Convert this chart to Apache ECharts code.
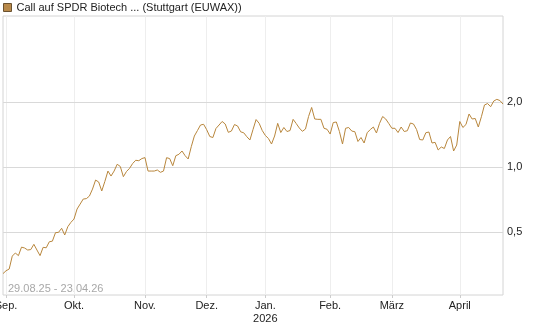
<!DOCTYPE html>
<html>
<head>
<meta charset="utf-8">
<script src="https://cdn.jsdelivr.net/npm/echarts@6/dist/echarts.min.js"></script>
<style>
  html, body { margin: 0; padding: 0; background: #fff; }
  #chart { width: 545px; height: 327px; }
</style>
</head>
<body>
<div id="chart"></div>
<script>
// Handelstage 29.08.25 - 23.04.26 (Börsenfeiertage ausgenommen)
var startDay = '2025-08-29'
var endDay = '2026-04-23'
var holidays = ['2025-12-24', '2025-12-25', '2025-12-26', '2025-12-31', '2026-01-01', '2026-04-03', '2026-04-06']
var monthNames = ['Jan.\n2026', 'Feb.', 'März', 'April', 'Mai', 'Juni', 'Juli', 'Aug.', 'Sep.', 'Okt.', 'Nov.', 'Dez.']
var yLabels = [0.5, 1, 2]

// Kurs je Handelstag
var prices = [
  0.322, 0.332, 0.338, 0.388, 0.401, 0.390, 0.427, 0.423, 0.414, 0.416,
  0.440, 0.414, 0.390, 0.426, 0.424, 0.452, 0.455, 0.498, 0.500, 0.522,
  0.486, 0.531, 0.556, 0.576, 0.641, 0.676, 0.713, 0.716, 0.736, 0.793,
  0.873, 0.855, 0.777, 0.860, 0.961, 0.911, 0.961, 1.033, 1.009, 0.905,
  0.956, 0.989, 1.041, 1.078, 1.073, 1.098, 1.109, 0.961, 0.961, 0.961,
  0.972, 0.948, 0.961, 1.108, 1.098, 1.017, 1.132, 1.149, 1.190, 1.132,
  1.093, 1.246, 1.396, 1.480, 1.570, 1.582, 1.493, 1.389, 1.374, 1.513,
  1.570, 1.630, 1.587, 1.452, 1.472, 1.578, 1.554, 1.460, 1.445, 1.386,
  1.338, 1.496, 1.664, 1.598, 1.480, 1.404, 1.360, 1.282, 1.396, 1.598,
  1.449, 1.529, 1.465, 1.480, 1.668, 1.595, 1.521, 1.468, 1.504, 1.719,
  1.893, 1.674, 1.668, 1.668, 1.516, 1.500, 1.426, 1.612, 1.621, 1.465,
  1.282, 1.516, 1.529, 1.472, 1.462, 1.317, 1.374, 1.296, 1.446, 1.496,
  1.537, 1.442, 1.598, 1.719, 1.674, 1.595, 1.516, 1.516, 1.449, 1.537,
  1.465, 1.477, 1.604, 1.587, 1.496, 1.345, 1.338, 1.446, 1.457, 1.296,
  1.305, 1.203, 1.242, 1.222, 1.338, 1.389, 1.190, 1.268, 1.630, 1.529,
  1.578, 1.766, 1.674, 1.683, 1.537, 1.715, 1.944, 1.974, 1.908, 2.027,
  2.064, 2.038, 1.963
]

var days = []
var t = Date.parse(startDay + 'T00:00:00Z')
var tEnd = Date.parse(endDay + 'T00:00:00Z')
while (t <= tEnd) {
  var d = new Date(t)
  var s = d.toISOString().slice(0, 10)
  var wd = d.getUTCDay()
  if (wd !== 0 && wd !== 6 && holidays.indexOf(s) < 0) days.push(s)
  t += 86400000
}

// erster Handelstag jedes Monats
var monthStart = {}
for (var i = 1; i < days.length; i++) {
  if (days[i].slice(5, 7) !== days[i - 1].slice(5, 7)) monthStart[i] = true
}
function isMonthStart(index) {
  return !!monthStart[index]
}

var chart = echarts.init(document.getElementById('chart'))
chart.setOption({
  animation: false,
  textStyle: { fontFamily: 'Liberation Sans, Arial, sans-serif' },
  legend: {
    left: 3,
    top: 2,
    padding: 0,
    icon: 'rect',
    itemWidth: 8,
    itemHeight: 8,
    selectedMode: false,
    textStyle: { fontSize: 11, color: '#222' },
    data: [{
      name: 'Call auf SPDR Biotech ... (Stuttgart (EUWAX))',
      itemStyle: { color: '#b8894a', borderColor: '#6b5230', borderWidth: 1 }
    }]
  },
  grid: {
    left: 3,
    right: 42,
    top: 16,
    bottom: 32,
    containLabel: false,
    outerBoundsMode: 'none',
    show: true,
    borderColor: '#d4d4d4',
    borderWidth: 1
  },
  graphic: [{
    type: 'text',
    left: 8,
    top: 283,
    style: { text: '29.08.25 - 23.04.26', fill: '#a8a8a8', font: '11px Liberation Sans, Arial, sans-serif' }
  }],
  xAxis: {
    type: 'category',
    data: days,
    boundaryGap: false,
    axisLine: { show: false },
    axisTick: { show: true, length: 3, interval: isMonthStart, lineStyle: { color: '#cccccc' } },
    splitLine: { show: true, interval: isMonthStart, lineStyle: { color: '#eeeeee', width: 1 } },
    axisLabel: {
      interval: isMonthStart,
      margin: 4,
      fontSize: 11,
      lineHeight: 13,
      color: '#222',
      formatter: function (value) {
        return monthNames[parseInt(value.slice(5, 7), 10) - 1]
      }
    }
  },
  yAxis: {
    type: 'log',
    logBase: 2,
    position: 'right',
    min: 0.2563,
    max: 5.02,
    axisLine: { show: false },
    axisTick: { show: false },
    splitLine: { show: false },
    axisLabel: {
      margin: 4,
      fontSize: 11,
      color: '#222',
      formatter: function (v) {
        for (var k = 0; k < yLabels.length; k++) {
          if (Math.abs(v - yLabels[k]) < 1e-3) return yLabels[k].toFixed(1).replace('.', ',')
        }
        return ''
      }
    }
  },
  series: [{
    name: 'Call auf SPDR Biotech ... (Stuttgart (EUWAX))',
    type: 'line',
    data: prices,
    symbol: 'none',
    lineStyle: { color: '#b8863c', width: 1 },
    itemStyle: { color: '#b8863c' },
    markLine: {
      silent: true,
      z: 1,
      symbol: 'none',
      label: { show: false },
      lineStyle: { color: '#d9d9d9', type: 'solid', width: 1 },
      data: yLabels.map(function (v) { return { yAxis: v } })
    }
  }]
})
</script>
</body>
</html>
